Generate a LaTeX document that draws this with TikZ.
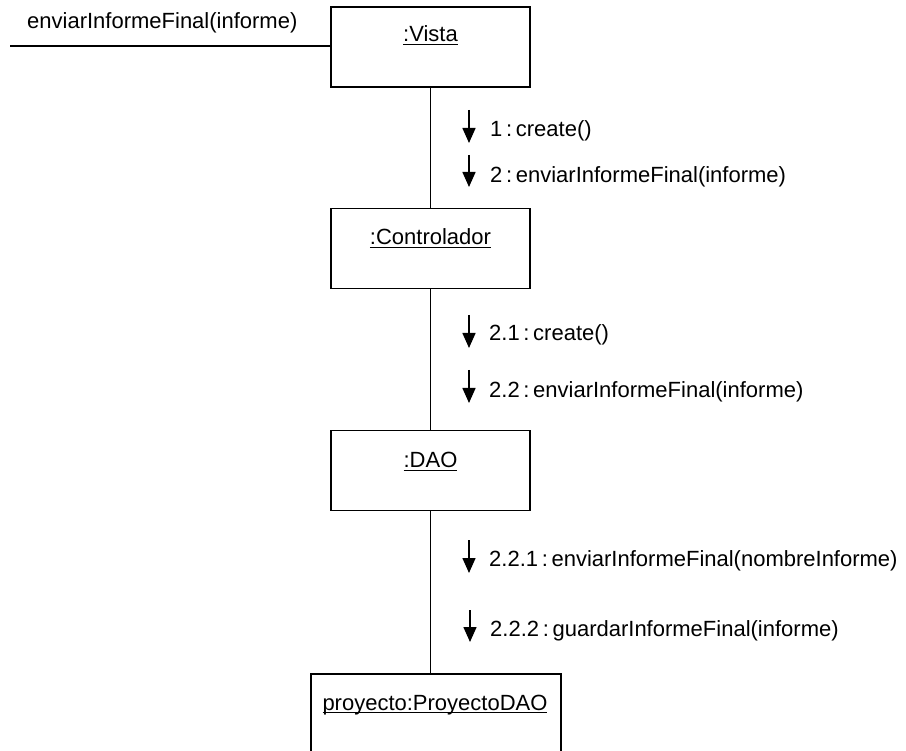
\documentclass[tikz,border=0pt]{standalone}
\usepackage{fontspec}
\setmainfont{Liberation Sans}
\usetikzlibrary{arrows.meta}
% object name with a fixed underline just below the baseline
\newcommand\objtitle[1]{\setbox0=\hbox{#1}\rlap{\rule[-2.8pt]{\wd0}{1.2pt}}\box0}

\begin{document}
\begin{tikzpicture}[x=1pt,y=-1pt,
  obj/.style={draw, line width=1.5pt, minimum width=199pt, minimum height=80pt,
              inner sep=0pt, outer sep=0pt},
  objlabel/.style={anchor=base, inner sep=0pt, font=\fontsize{22}{26}\selectfont},
  link/.style={line width=1.5pt},
  msg/.style={line width=1.5pt, -{Triangle[length=15pt,width=13pt]}},
  msglabel/.style={anchor=base west, inner sep=0pt, font=\fontsize{22}{26}\selectfont}]
\useasboundingbox (0,0) rectangle (906,751);
\clip (0,0) rectangle (906,751);

% objects
\node[obj] (vista) at (430.5,47) {};
\node[objlabel] (vistaT) at (430.5,42) {\objtitle{:Vista}};

\node[obj] (ctrl) at (430.5,248.5) {};
\node[objlabel] (ctrlT) at (430.5,245) {\objtitle{:Controlador}};

\node[obj] (dao) at (430.5,470.5) {};
\node[objlabel] (daoT) at (430.5,468) {\objtitle{:DAO}};

\node[obj, minimum width=250pt, minimum height=100pt] (proy) at (436,724) {};
\node[objlabel] (proyT) at (435,710) {\objtitle{proyecto:ProyectoDAO}};

% incoming message
\coordinate (in) at (10,46);
\draw[link] (in) -- (in -| vista.west);
\node[msglabel] (inlbl) at (27,29) {enviarInformeFinal(informe)};

% links between objects
\draw[link] (vista.south) -- (ctrl.north);
\draw[link] (ctrl.south) -- (dao.north);
\draw[link] (dao.south) -- (dao.south |- proy.north);

% messages Vista -> Controlador
\coordinate (m1a) at (469,110); \coordinate (m1b) at (469,143);
\draw[msg] (m1a) -- (m1b);
\node[msglabel] (m1) at (490,137) {1\,:\,create()};
\coordinate (m2a) at (469,155); \coordinate (m2b) at (469,187);
\draw[msg] (m2a) -- (m2b);
\node[msglabel] (m2) at (490,183) {2\,:\,enviarInformeFinal(informe)};

% messages Controlador -> DAO
\coordinate (m3a) at (469,315); \coordinate (m3b) at (469,348);
\draw[msg] (m3a) -- (m3b);
\node[msglabel] (m3) at (489,341) {2.1\,:\,create()};
\coordinate (m4a) at (469,370); \coordinate (m4b) at (469,403);
\draw[msg] (m4a) -- (m4b);
\node[msglabel] (m4) at (489,398) {2.2\,:\,enviarInformeFinal(informe)};

% messages DAO -> ProyectoDAO
\coordinate (m5a) at (469,540); \coordinate (m5b) at (469,573);
\draw[msg] (m5a) -- (m5b);
\node[msglabel] (m5) at (489,566) {2.2.1\,:\,enviarInformeFinal(nombreInforme)};
\coordinate (m6a) at (470,610); \coordinate (m6b) at (470,642);
\draw[msg] (m6a) -- (m6b);
\node[msglabel] (m6) at (490,636) {2.2.2\,:\,guardarInformeFinal(informe)};
\end{tikzpicture}
\end{document}
